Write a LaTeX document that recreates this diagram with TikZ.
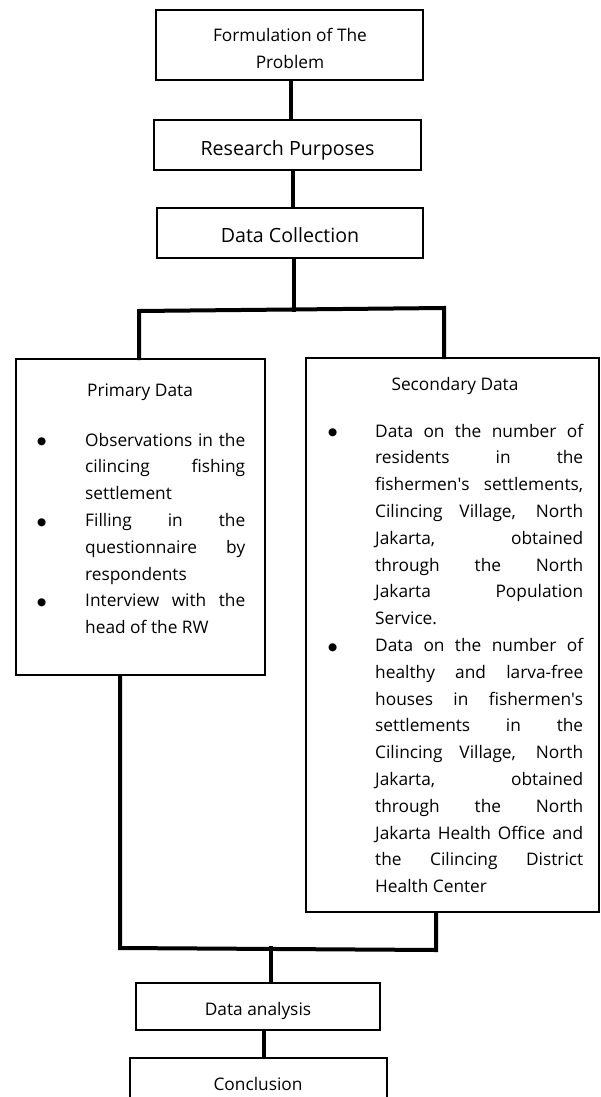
\documentclass[tikz,border=0pt]{standalone}
\usepackage{fontspec}
\setmainfont{Open Sans}
\newfontfamily\bulletfont{DejaVu Sans}
\usetikzlibrary{calc}
\newcommand{\mybullet}{\raisebox{1.2pt}{\fontsize{10.5}{10.5}\bulletfont ●}}
\newcommand{\bitem}[2]{\par\hangindent=#1\hangafter=0\noindent\llap{\makebox[#1][l]{\mybullet}}#2}
\newcommand{\jtext}[2]{\parbox[t]{#1}{\tolerance=10000\hbadness=10000\hyphenpenalty=10000\exhyphenpenalty=10000\hfuzz=4pt #2}}
\begin{document}
\begin{tikzpicture}[x=1pt,y=-1pt,
  box/.style={draw,line width=2pt,inner sep=0pt},
  conn/.style={line width=4pt,line cap=rect,line join=miter},
  body/.style={font=\fontsize{17.3}{26.8}\selectfont,inner sep=0pt},
  big/.style={font=\fontsize{19.6}{24}\selectfont,inner sep=0pt}]
\useasboundingbox (0,0) rectangle (600,1097);
\fill[white] (0,0) rectangle (600,1097);
\clip (0,0) rectangle (600,1097);
% boxes
\node[box,minimum width=267pt,minimum height=70pt] (f) at (289.5,45) {};
\node[box,minimum width=267pt,minimum height=50pt] (r) at (287.5,145) {};
\node[box,minimum width=266pt,minimum height=50pt] (d) at (290,233) {};
\node[box,minimum width=249pt,minimum height=316pt] (p) at (140.5,517) {};
\node[box,minimum width=293pt,minimum height=554pt] (s) at (452.5,635) {};
\node[box,minimum width=244pt,minimum height=47pt] (a) at (258,1006.5) {};
\node[box,minimum width=257pt,minimum height=64pt] (c) at (258.5,1090) {};
% texts
\node[body,anchor=base] (ft1) at (290,41.7) {Formulation of The};
\node[body,anchor=base] (ft2) at (290,68.3) {Problem};
\node[big,anchor=base] (rt) at (287.5,155) {Research Purposes};
\node[big,anchor=base] (dt) at (290,242) {Data Collection};
\node[body,anchor=base] (pt) at (140,396.5) {Primary Data};
\node[body,anchor=base] (st) at (455,390) {Secondary Data};
\node[body,anchor=base west] (pl) at (37,446) {\jtext{208pt}{%
\bitem{48pt}{Observations in the\linebreak cilincing fishing\linebreak settlement}
\bitem{48pt}{Filling in the\linebreak questionnaire by\linebreak respondents}
\bitem{48pt}{Interview with the\linebreak head of the RW}}};
\node[body,anchor=base west] (sl) at (328,437) {\jtext{255pt}{%
\bitem{47pt}{Data on the number of\linebreak residents in the\linebreak fishermen\textquotesingle s settlements,\linebreak Cilincing Village, North\linebreak Jakarta, obtained\linebreak through the North\linebreak Jakarta Population\linebreak Service.}
\bitem{47pt}{Data on the number of\linebreak healthy and larva-free\linebreak houses in fishermen\textquotesingle s\linebreak settlements in the\linebreak Cilincing Village, North\linebreak Jakarta, obtained\linebreak through the North\linebreak Jakarta Health Office and\linebreak the Cilincing District\linebreak Health Center}}};
\node[body,anchor=base] (at) at (258,1015) {Data analysis};
\node[body,anchor=base] (ct) at (258,1090) {Conclusion};
% junction coordinates
\coordinate (x1) at (291,0);
\coordinate (x2) at (293,0);
\coordinate (x3) at (294,309.5);
\coordinate (jl) at (139,311);
\coordinate (jr) at (444,308);
\coordinate (bl) at (120,948);
\coordinate (br) at (436,950);
\coordinate (jb) at (271,948);
\coordinate (x4) at (264,0);
% connectors
\draw[conn] (f.south -| x1) -- (r.north -| x1);
\draw[conn] (r.south -| x2) -- (d.north -| x2);
\draw[conn] (d.south -| x3) -- (x3);
\draw[conn] (p.north -| jl) -- (jl) -- (jr) -- (s.north -| jr);
\draw[conn] (p.south -| bl) -- (bl) -- (br) -- (s.south -| br);
\draw[conn] (jb) -- (a.north -| jb);
\draw[conn] (a.south -| x4) -- (c.north -| x4);
\end{tikzpicture}
\end{document}
